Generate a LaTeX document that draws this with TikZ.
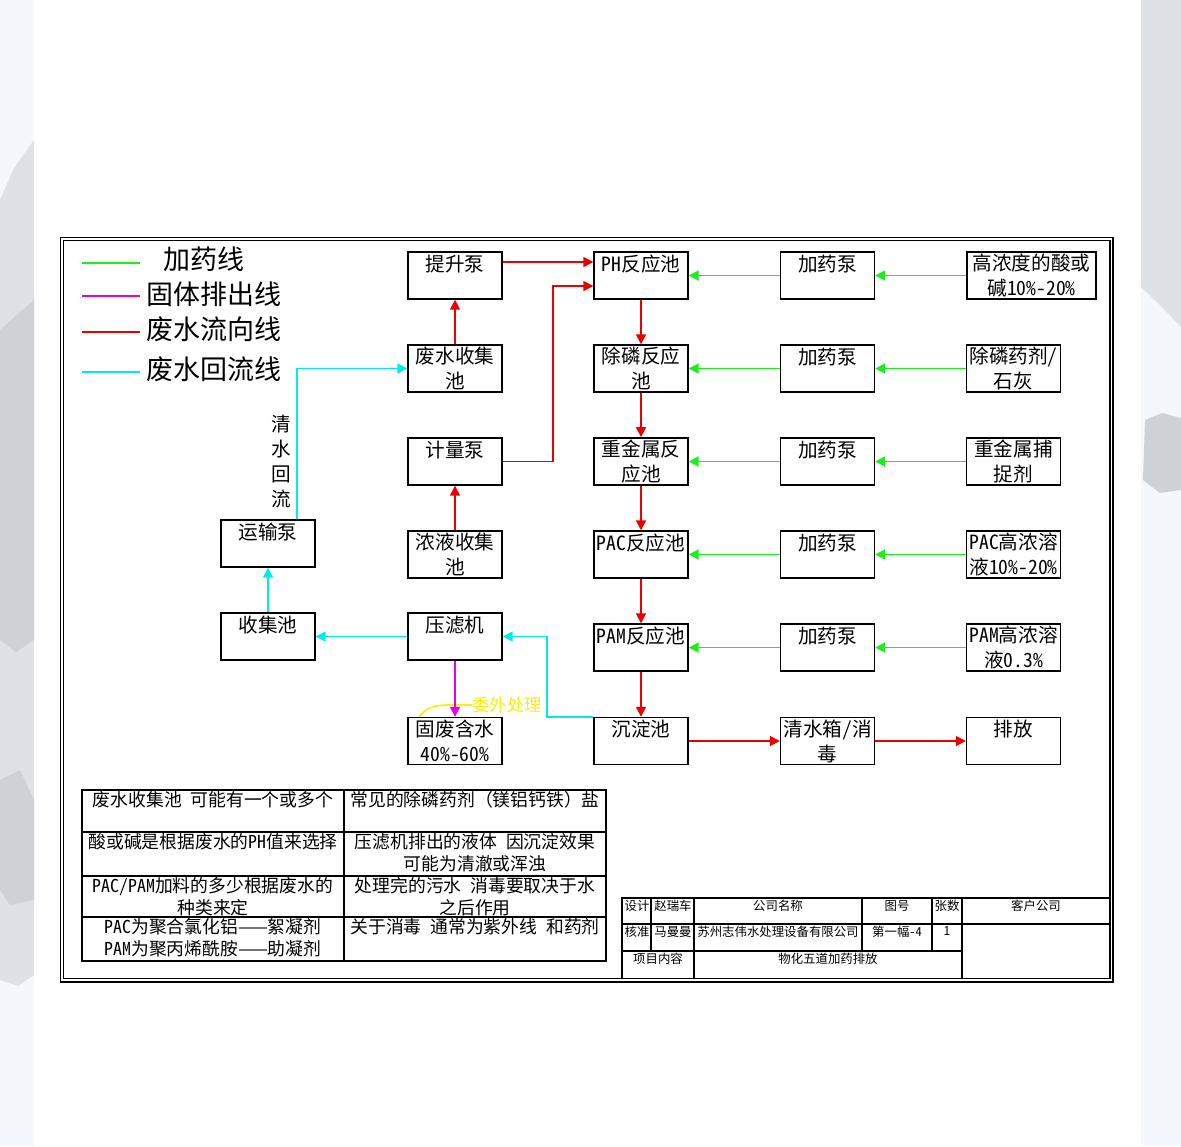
\documentclass[tikz,border=0pt]{standalone}
\usepackage{fontspec}
\setmainfont{Noto Sans CJK SC}[RawFeature=+hwid]
\newfontfamily\fullw{Noto Sans CJK SC}
\usepackage{tikz}
\usepackage{xcolor}
\usetikzlibrary{positioning, arrows.meta}
\definecolor{feedGreen}{RGB}{25,240,25}
\definecolor{sludgeMagenta}{RGB}{230,0,230}
\definecolor{wasteRed}{RGB}{235,0,0}
\definecolor{reflowCyan}{RGB}{0,235,235}
\definecolor{handYellow}{RGB}{248,242,0}
\definecolor{sidePale}{RGB}{244,248,253}
\definecolor{inkGray}{RGB}{206,209,213}
\definecolor{inkLight}{RGB}{222,225,229}
\newcommand{\flowfont}{\fontsize{9.8pt}{12.5pt}\selectfont}
\newcommand{\legendfont}{\fontsize{13.5pt}{16pt}\selectfont}
\newcommand{\notefont}{\fontsize{8.9pt}{11pt}\selectfont}
\newcommand{\titlefont}{\fontsize{6.2pt}{7.5pt}\selectfont}

\begin{document}
\begin{tikzpicture}[
			x=0.5pt, y=-0.5pt,
			box/.style={
				draw,
				line width=0.7pt,
				minimum width=47pt,
				minimum height=23.5pt,
				inner sep=1pt,
				align=center,
				font=\flowfont
			},
			widebox/.style={
				box,
				minimum width=64.5pt
			},
			waste/.style={
				wasteRed,
				line width=0.85pt,
				-{Triangle[length=5pt,width=5pt]}
			},
			feed/.style={
				feedGreen,
				line width=0.95pt,
				-{Triangle[length=5pt,width=5pt]}
			},
			reflow/.style={
				reflowCyan,
				line width=0.9pt,
				-{Triangle[length=5pt,width=5pt]}
			},
			sludge/.style={
				sludgeMagenta,
				line width=0.85pt,
				-{Triangle[length=5pt,width=5pt]}
			},
			handover/.style={
				handYellow,
				line width=0.85pt
			},
			legendtext/.style={
				font=\legendfont,
				anchor=west,
				inner sep=0pt
			},
			notetext/.style={
				font=\notefont,
				align=center,
				anchor=north,
				inner sep=0.5pt
			},
			titletext/.style={
				font=\titlefont,
				anchor=north,
				inner sep=0.5pt
			},
			gridline/.style={
				line width=0.7pt
			}
			]
			
			% Page and side strips
			\useasboundingbox (0,0) rectangle (1181,1146);
			\fill[white] (0,0) rectangle (1181,1146);
			\fill[sidePale] (0,0) rectangle (34,1146);
			\fill[sidePale] (1141,0) rectangle (1181,1146);
			\fill[inkLight] (0,200) -- (14,168) -- (34,140) -- (34,975) -- (18,986) -- (0,980) -- cycle;
			\fill[inkGray] (0,330) -- (34,300) -- (34,640) -- (16,652) -- (0,640) -- cycle;
			\fill[inkGray] (0,780) -- (20,770) -- (34,800) -- (34,900) -- (10,905) -- (0,890) -- cycle;
			\fill[inkLight] (1141,0) -- (1181,0) -- (1181,327) -- (1160,305) -- (1141,287) -- cycle;
			\fill[inkGray] (1145,420) -- (1162,413) -- (1181,418) -- (1181,490) -- (1160,493) -- (1143,480) -- cycle;
			
			% Drawing frame
			\draw[line width=0.6pt] (60.5,237.5) rectangle (1113,982);
			\draw[line width=0.6pt] (63.5,240.5) rectangle (1110,978.5);
			
			% Legend
			\draw[feedGreen, line width=0.95pt] (82,263) -- (140,263);
			\draw[sludgeMagenta, line width=0.85pt] (82,296) -- (140,296);
			\draw[wasteRed, line width=0.85pt] (82,332) -- (140,332);
			\draw[reflowCyan, line width=0.9pt] (82,372) -- (140,372);
			\node[legendtext] (lgfeed) at (163,259) {加药线};
			\node[legendtext] (lgsludge) at (146,294) {固体排出线};
			\node[legendtext] (lgwaste) at (146,329) {废水流向线};
			\node[legendtext] (lgreflow) at (146,369) {废水回流线};
			
			% Collection side (nodes)
			\node[box] (tsb) at (455,275.5) {提升泵\\\mbox{}};
			\node[box] (fsj) at (455,368.5) {废水收集\\池};
			\node[box] (jlb) at (455,461.5) {计量泵\\\mbox{}};
			\node[box] (nyj) at (455,554.5) {浓液收集\\池};
			\node[box] (ylj) at (455,636.5) {压滤机\\\mbox{}};
			\node[box] (gf) at (455,741) {固废含水\\40\%-60\%};
			\node[box] (ysb) at (268,543.5) {运输泵\\\mbox{}};
			\node[box] (sjc) at (268,636.5) {收集池\\\mbox{}};
			
			% Reaction tanks (nodes)
			\node[box] (ph) at (641,275.5) {PH反应池\\\mbox{}};
			\node[box] (clf) at (641,368.5) {除磷反应\\池};
			\node[box] (zjs) at (641,461.5) {重金属反\\应池};
			\node[box] (pac) at (641,554.5) {PAC反应池\\\mbox{}};
			\node[box] (pam) at (641,647.5) {PAM反应池\\\mbox{}};
			\node[box] (cdc) at (641,741) {沉淀池\\\mbox{}};
			
			% Dosing pumps (nodes)
			\node[box] (pump1) at (827.5,275.5) {加药泵\\\mbox{}};
			\node[box] (pump2) at (827.5,368.5) {加药泵\\\mbox{}};
			\node[box] (pump3) at (827.5,461.5) {加药泵\\\mbox{}};
			\node[box] (pump4) at (827.5,554.5) {加药泵\\\mbox{}};
			\node[box] (pump5) at (827.5,647.5) {加药泵\\\mbox{}};
			\node[box] (qsx) at (827.5,741) {清水箱/消\\毒};
			
			% Chemicals (nodes)
			\node[widebox] (src1) at (1031.5,275.5) {高浓度的酸或\\碱10\%-20\%};
			\node[box] (src2) at (1013.5,368.5) {除磷药剂/\\石灰};
			\node[box] (src3) at (1013.5,461.5) {重金属捕\\捉剂};
			\node[box] (src4) at (1013.5,554.5) {PAC高浓溶\\液10\%-20\%};
			\node[box] (src5) at (1013.5,647.5) {PAM高浓溶\\液0.3\%};
			\node[box] (pf) at (1013.5,741) {排放\\\mbox{}};
			
			% Waste water flow
			\draw[waste] (fsj) -- (tsb);
			\draw[waste] ([yshift=6.75pt]tsb.east) -- ([yshift=6.75pt]ph.west);
			\draw[waste] (nyj) -- (jlb);
			\draw[waste] (jlb.east) -- ++(50,0) |- ([yshift=-5.25pt]ph.west);
			\draw[waste] (ph) -- (clf);
			\draw[waste] (clf) -- (zjs);
			\draw[waste] (zjs) -- (pac);
			\draw[waste] (pac) -- (pam);
			\draw[waste] (pam) -- (cdc);
			\draw[waste] (cdc) -- (qsx);
			\draw[waste] (qsx) -- (pf);
			
			% Dosing lines
			\draw[feed] (src1) -- (pump1);
			\draw[feed] (pump1) -- (ph);
			\draw[feed] (src2) -- (pump2);
			\draw[feed] (pump2) -- (clf);
			\draw[feed] (src3) -- (pump3);
			\draw[feed] (pump3) -- (zjs);
			\draw[feed] (src4) -- (pump4);
			\draw[feed] (pump4) -- (pac);
			\draw[feed] (src5) -- (pump5);
			\draw[feed] (pump5) -- (pam);
			
			% Return flow
			\draw[reflow] (cdc.north west) -- ++(-46,0) |- (ylj.east);
			\draw[reflow] (ylj) -- (sjc);
			\draw[reflow] (sjc) -- (ysb);
			\draw[reflow] ([xshift=14.5pt]ysb.north) |- (fsj.west);
			\node[font=\flowfont, align=center, inner sep=0pt] (qshl) at (281,462) {清\\水\\回\\流};
			
			% Solid waste
			\node[handYellow, font=\fontsize{8.6pt}{10pt}\selectfont, inner sep=0pt] (ww) at (507,705) {委外处理};
			\draw[handover] (ww.west) -- ++(-16,0) to[out=180,in=55] ([xshift=6pt]gf.north west);
			\draw[sludge] (ylj) -- (gf);
			
			% Notes table
			\draw[gridline] (82,790) rectangle (606,961);
			\draw[gridline] (82,832) -- (606,832);
			\draw[gridline] (82,876) -- (606,876);
			\draw[gridline] (82,917) -- (606,917);
			\draw[gridline] (344,790) -- (344,961);
			\node[notetext] (note1) at (213,790) {废水收集池 可能有一个或多个};
			\node[notetext] (note2) at (475,790) {常见的除磷药剂{\fullw （}镁铝钙铁{\fullw ）}盐};
			\node[notetext] (note3) at (213,832) {酸或碱是根据废水的PH值来选择};
			\node[notetext] (note4) at (475,832) {压滤机排出的液体 因沉淀效果\\可能为清澈或浑浊};
			\node[notetext] (note5) at (213,876) {PAC/PAM加料的多少根据废水的\\种类来定};
			\node[notetext] (note6) at (475,876) {处理完的污水 消毒要取决于水\\之后作用};
			\node[notetext] (note7) at (213,917) {PAC为聚合氯化铝{\fullw ——}絮凝剂\\PAM为聚丙烯酰胺{\fullw ——}助凝剂};
			\node[notetext] (note8) at (475,917) {关于消毒 通常为紫外线 和药剂};
			
			% Title block
			\draw[gridline] (622,978.5) -- (622,898) -- (1110,898);
			\draw[gridline] (622,924) -- (1110,924);
			\draw[gridline] (622,951) -- (962,951);
			\draw[gridline] (651,898) -- (651,951);
			\draw[gridline] (694,898) -- (694,978.5);
			\draw[gridline] (862,898) -- (862,951);
			\draw[gridline] (932,898) -- (932,951);
			\draw[gridline] (962,898) -- (962,978.5);
			\node[titletext] (tsj) at (637,899) {设计};
			\node[titletext] (tzr) at (673,899) {赵瑞车};
			\node[titletext] (tgs) at (778,899) {公司名称};
			\node[titletext] (tth) at (897,899) {图号};
			\node[titletext] (tzs) at (947,899) {张数};
			\node[titletext] (tkh) at (1036,899) {客户公司};
			\node[titletext] (thz) at (637,925) {核准};
			\node[titletext] (tmm) at (673,925) {马曼曼};
			\node[titletext] (tgsm) at (778,925) {苏州志伟水处理设备有限公司};
			\node[titletext] (tthm) at (897,925) {第一幅-4};
			\node[titletext] (tzsm) at (947,925) {1};
			\node[titletext] (txm) at (658,952) {项目内容};
			\node[titletext] (txmm) at (828,952) {物化五道加药排放};
			
		\end{tikzpicture}
\end{document}
